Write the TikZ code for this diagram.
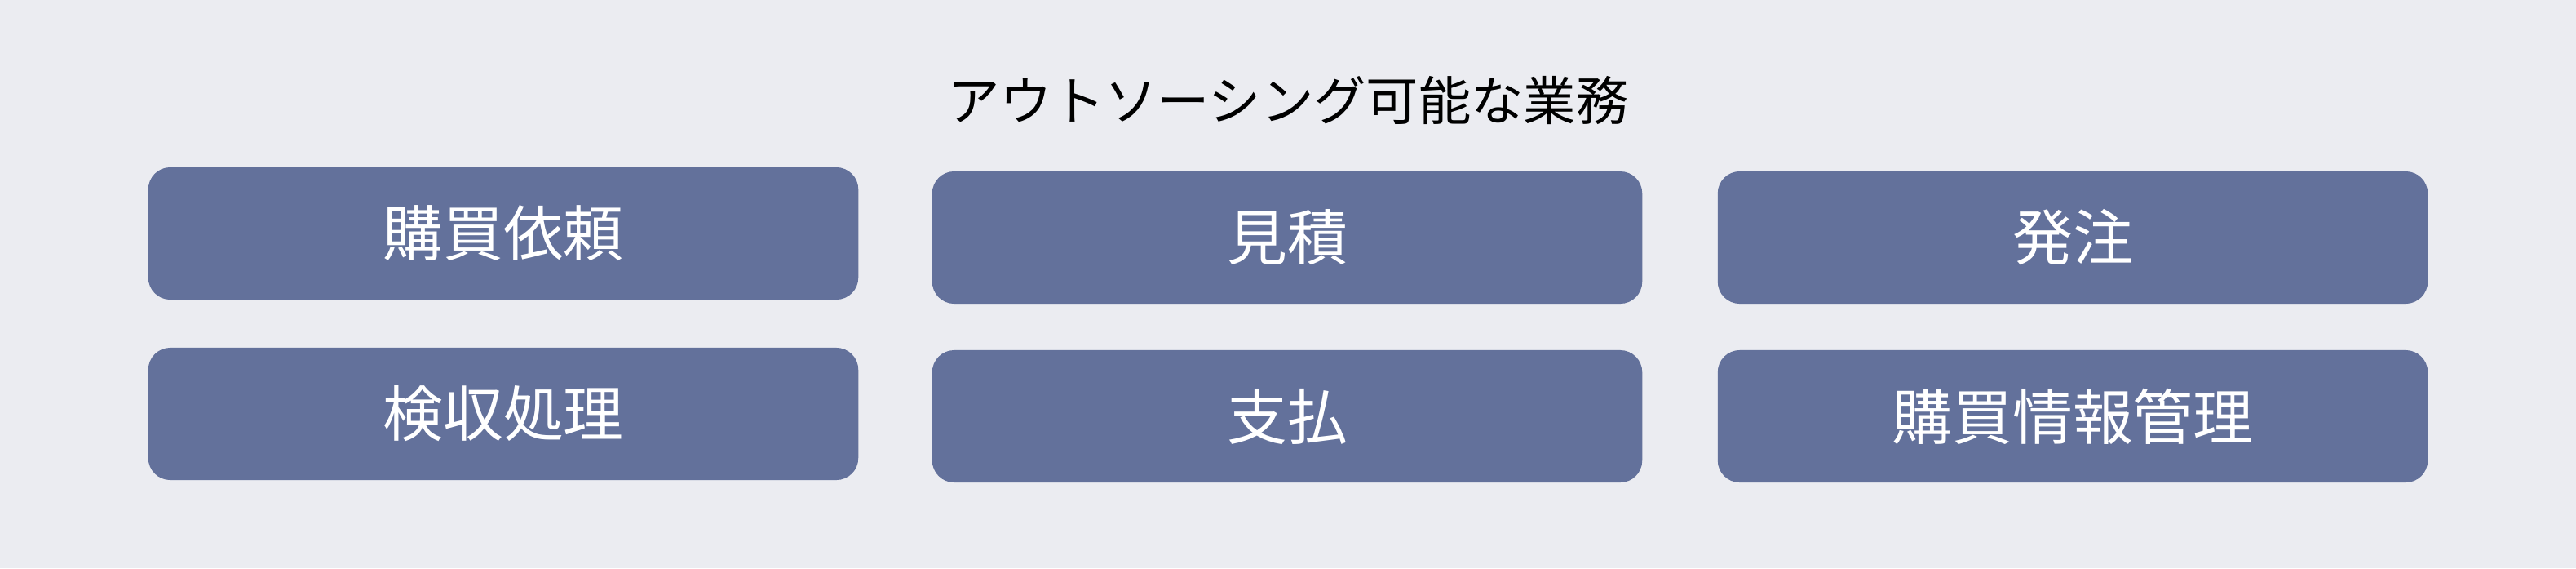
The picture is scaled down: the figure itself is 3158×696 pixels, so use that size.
\documentclass[tikz,border=0pt]{standalone}
\usepackage{fontspec}
\setmainfont{Noto Sans CJK JP}
\definecolor{boxblue}{HTML}{63719B}
\definecolor{paper}{HTML}{EBECF1}

\begin{document}
\begin{tikzpicture}[x=0.01cm,y=-0.01cm,
  task/.style={fill=boxblue,rounded corners=0.27cm,minimum width=8.7cm,
    minimum height=1.62cm,inner sep=0pt,text=white,
    font=\fontsize{21}{21}\selectfont}]
\fill[paper] (0,0) rectangle (3158,696);
\node[font=\fontsize{18.3}{18.3}\selectfont] (title) at (1579,123) {アウトソーシング可能な業務};
\node[task] (request) at (617,286) {購買依頼};
\node[task] (quote) at (1578,291) {見積};
\node[task] (order) at (2541,291) {発注};
\node[task] (inspect) at (617,507) {検収処理};
\node[task] (payment) at (1578,510) {支払};
\node[task] (records) at (2541,510) {購買情報管理};
\end{tikzpicture}
\end{document}
